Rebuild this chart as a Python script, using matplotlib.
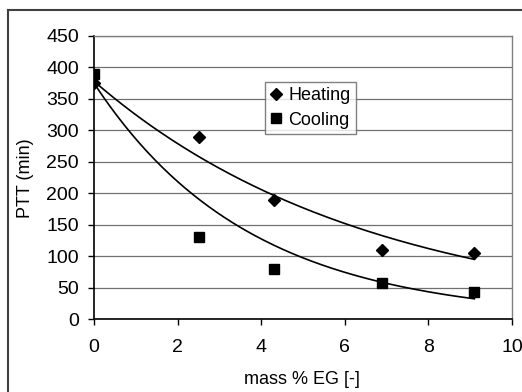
import numpy as np
import matplotlib
matplotlib.use("Agg")
import matplotlib.pyplot as plt
from matplotlib.lines import Line2D

# data
mass_eg = [0, 2.5, 4.3, 6.9, 9.1]
heating = [375, 290, 190, 110, 105]
cooling = [390, 130, 80, 57, 43]
# exponential trend lines y = a*exp(-k*x)
heat_a, heat_k = 378, 0.152
cool_a, cool_k = 375, 0.27
xticks = [0, 2, 4, 6, 8, 10]
yticks = list(range(0, 451, 50))

plt.rcParams['font.family'] = ['Liberation Sans', 'DejaVu Sans']

W, H = 522, 392
FS = 13
fig = plt.figure(figsize=(W / 100, H / 100), dpi=100)
ax = fig.add_axes([94 / W, 1 - 319 / H, (512 - 94) / W, (319 - 36) / H])

ax.set_xlim(0, 10)
ax.set_ylim(0, 450)
ax.set_xticks(xticks)
ax.set_yticks(yticks)
ax.yaxis.grid(True, color='#707070', lw=0.9)
ax.set_axisbelow(True)

xs = np.linspace(min(mass_eg), max(mass_eg), 200)
ax.plot(xs, heat_a * np.exp(-heat_k * xs), color='black', lw=1.2, zorder=3)
ax.plot(xs, cool_a * np.exp(-cool_k * xs), color='black', lw=1.2, zorder=3)

ax.plot(mass_eg, heating, linestyle='none', marker='D', ms=6, color='black', zorder=4, label='Heating')
ax.plot(mass_eg, cooling, linestyle='none', marker='s', ms=7, color='black', zorder=4, label='Cooling')

for s in ['left', 'bottom']:
    ax.spines[s].set_color('black')
    ax.spines[s].set_linewidth(1.2)
for s in ['top', 'right']:
    ax.spines[s].set_color('#808080')
    ax.spines[s].set_linewidth(1.0)

ax.tick_params(direction='out', length=4.3, width=1, labelsize=14, colors='black')
ax.tick_params(axis='x', pad=10)
ax.tick_params(axis='y', pad=6.5)

fig.text(302 / W, 1 - 384 / H, 'mass % EG [-]', fontsize=FS, ha='center', va='baseline')
fig.text(25 / W, 1 - 178 / H, 'PTT (min)', fontsize=FS, ha='center', va='center', rotation=90)

leg = ax.legend(loc='upper left', bbox_to_anchor=((265 - 94) / 418, (319 - 82) / 283),
                fontsize=FS, frameon=True, fancybox=False, shadow=False,
                handlelength=0.6, handletextpad=0.4, borderpad=0.3, labelspacing=0.4,
                borderaxespad=0)
leg.get_frame().set_edgecolor('#606060')
leg.get_frame().set_linewidth(1.0)
leg.set_zorder(5)

# outer chart border (top and left visible)
fig.add_artist(Line2D([8 / W, 8 / W], [0, 1 - 10 / H], transform=fig.transFigure, color='#404040', lw=1.5))
fig.add_artist(Line2D([8 / W, 1], [1 - 10 / H, 1 - 10 / H], transform=fig.transFigure, color='#404040', lw=1.5))

fig.savefig('out.png', dpi=100)
